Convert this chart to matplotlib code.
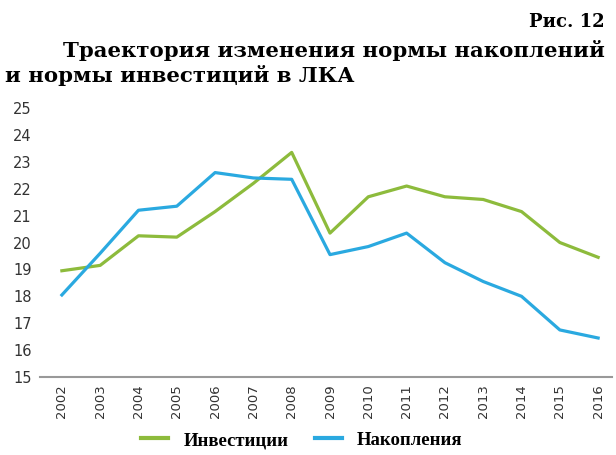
import matplotlib.pyplot as plt

# данные
years = list(range(2002, 2017))
investicii = [18.95, 19.15, 20.25, 20.2, 21.15, 22.2, 23.35, 20.35, 21.7, 22.1, 21.7, 21.6, 21.15, 20.0, 19.45]
nakopleniya = [18.05, 19.6, 21.2, 21.35, 22.6, 22.4, 22.35, 19.55, 19.85, 20.35, 19.25, 18.55, 18.0, 16.75, 16.45]
yticks = list(range(15, 26))

green = '#8dbb3c'
blue = '#2aa9e0'

fig = plt.figure(figsize=(6.16, 4.55), dpi=100)
ax = fig.add_axes([0.065, 0.1714, 0.929, 0.5912])

ax.plot(years, investicii, color=green, linewidth=2.3, label='Инвестиции')
ax.plot(years, nakopleniya, color=blue, linewidth=2.3, label='Накопления')

ax.set_xlim(2001.43, 2016.37)
ax.set_ylim(15, 25)
ax.set_yticks(yticks)
ax.set_xticks(years)
ax.set_xticklabels([str(y) for y in years], rotation=90, fontsize=9.5, color='#333333')
ax.tick_params(axis='y', labelsize=10.5, colors='#333333', length=0, pad=6)
ax.tick_params(axis='x', length=0, pad=5)

for s in ['top', 'right', 'left']:
    ax.spines[s].set_visible(False)
ax.spines['bottom'].set_color('#999999')
ax.spines['bottom'].set_linewidth(1.5)

serif = 'DejaVu Serif'
fig.text(0.982, 0.952, 'Рис. 12', ha='right', va='center', family=serif,
         fontweight='bold', fontsize=13)
fig.text(0.982, 0.888, 'Траектория изменения нормы накоплений', ha='right',
         va='center', family=serif, fontweight='bold', fontsize=15.3)
fig.text(0.008, 0.833, 'и нормы инвестиций в ЛКА', ha='left', va='center',
         family=serif, fontweight='bold', fontsize=15.3)

leg = fig.legend(loc='center', bbox_to_anchor=(0.49, 0.032), ncol=2, frameon=False,
                 prop={'family': 'Liberation Serif', 'weight': 'bold', 'size': 13.5},
                 handlelength=1.45, columnspacing=1.4, handletextpad=0.8)
for line in leg.get_lines():
    line.set_linewidth(3)

fig.savefig('out.png', dpi=100)
